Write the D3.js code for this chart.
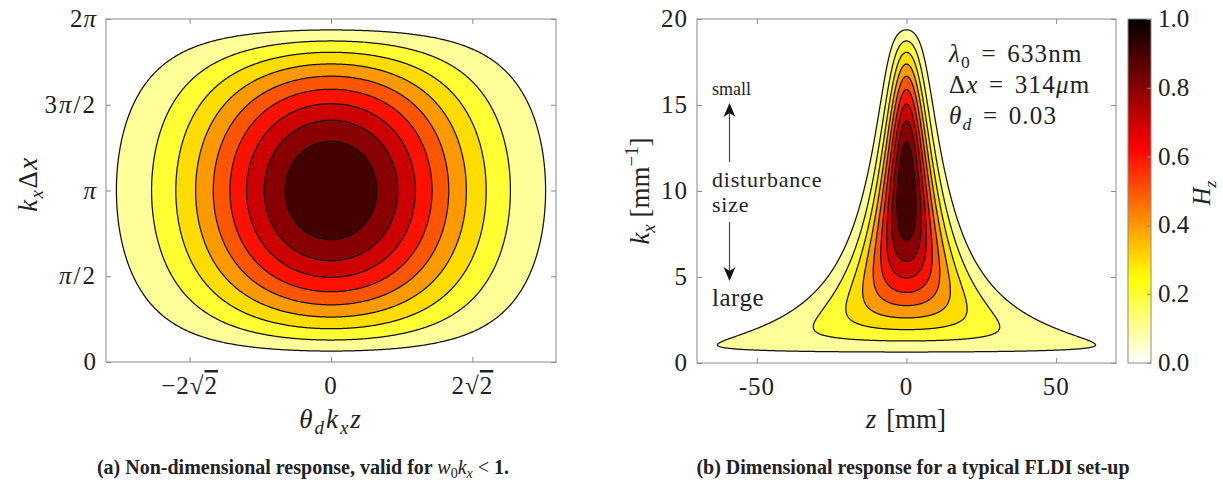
<!DOCTYPE html>
<html><head><meta charset="utf-8">
<script src="https://cdn.jsdelivr.net/npm/d3@7"></script>
<style>
html,body{margin:0;padding:0;background:#fff;}
svg{display:block;}
text{font-family:"Liberation Serif","Times New Roman",serif;fill:#222;}
</style></head><body>
<svg id="chart" width="1223" height="485"></svg>
<script>
// ---------------- data ----------------
const contourLevels = [0.1, 0.2, 0.3, 0.4, 0.5, 0.6, 0.7, 0.8, 0.9];
// panel (a): non-dimensional axes
const aXDomain = [-4.5, 4.5];
const aYDomain = [0, 2 * Math.PI];
const aXTickValues = [-2 * Math.SQRT2, 0, 2 * Math.SQRT2];
const aXTickLabels = ["−2√2", "0", "2√2"];
const aYTickValues = [0, Math.PI / 2, Math.PI, 3 * Math.PI / 2, 2 * Math.PI];
const aYTickLabels = ["0", "π/2", "π", "3π/2", "2π"];
// panel (b): dimensional axes
const bXDomain = [-70, 70];
const bYDomain = [0, 20];
const bXTickValues = [-50, 0, 50];
const bXTickLabels = ["-50", "0", "50"];
const bYTickValues = [0, 5, 10, 15, 20];
const bYTickLabels = ["0", "5", "10", "15", "20"];
const colorbarTicks = [0, 0.2, 0.4, 0.6, 0.8, 1.0];
const colorbarLabels = ["0.0", "0.2", "0.4", "0.6", "0.8", "1.0"];
// FLDI set-up parameters (shown in the text box)
const lambda0 = 633e-6;   // mm
const deltaX = 0.314;     // mm
const thetaD = 0.03;
const w0 = lambda0 / (Math.PI * thetaD);

// response H = exp(-k^2 w^2 / 8) |sin(k dx / 2)|
const fieldA = (x, y) => Math.exp(-x * x / 8) * Math.abs(Math.sin(y / 2));
const fieldB = (z, k) => {
  const w2 = w0 * w0 + thetaD * thetaD * z * z;
  return Math.exp(-k * k * w2 / 8) * Math.abs(Math.sin(k * deltaX / 2));
};

// reversed MATLAB "hot" colormap
function hotR(v) {
  const t = 1 - v;
  const c = u => Math.max(0, Math.min(1, u));
  const r = c(t / 0.375), g = c((t - 0.375) / 0.375), b = c((t - 0.75) / 0.25);
  return d3.rgb(r * 255, g * 255, b * 255).formatHex();
}

const svg = d3.select("#chart");

// rich text helper
function rich(sel, parts, size) {
  let shift = 0;
  parts.forEach(p => {
    const ts = sel.append("tspan").text(p.t);
    let target = 0, fs = size;
    if (p.sub) { target = size * 0.22; fs = size * 0.7; }
    if (p.sup) { target = -size * 0.4; fs = size * 0.7; }
    ts.attr("dy", target - shift);
    shift = target;
    ts.attr("font-size", fs);
    if (p.i) ts.attr("font-style", "italic");
    if (p.b) ts.attr("font-weight", "bold");
    if (p.ol) ts.style("text-decoration", "overline");
  });
  return sel;
}

function tickLabelParts(s) {
  const parts = [];
  for (let idx = 0; idx < s.length; idx++) {
    const ch = s[idx];
    if (ch === "π") parts.push({ t: "π", i: true });
    else if (ch === "√") { parts.push({ t: "√" }); parts.push({ t: s.slice(idx + 1), ol: true }); break; }
    else parts.push({ t: ch });
  }
  return parts;
}

const FS = 25;
const LFS = 27;
const gridGray = "#8a8a8a";

function drawPanel(box, xDom, yDom, xTV, xTL, yTV, yTL, field, nx, ny, clipId) {
  const x = d3.scaleLinear().domain(xDom).range([box.l, box.r]);
  const y = d3.scaleLinear().domain(yDom).range([box.b, box.t]);
  svg.append("clipPath").attr("id", clipId).append("rect")
    .attr("x", box.l).attr("y", box.t).attr("width", box.r - box.l).attr("height", box.b - box.t);

  const values = new Float64Array(nx * ny);
  for (let j = 0; j < ny; j++) {
    const yv = yDom[0] + (yDom[1] - yDom[0]) * j / (ny - 1);
    for (let i = 0; i < nx; i++) {
      const xv = xDom[0] + (xDom[1] - xDom[0]) * i / (nx - 1);
      values[j * nx + i] = field(xv, yv);
    }
  }
  const contours = d3.contours().size([nx, ny]).thresholds(contourLevels)(values);
  const proj = d3.geoTransform({
    point(px, py) {
      this.stream.point(
        x(xDom[0] + (px - 0.5) * (xDom[1] - xDom[0]) / (nx - 1)),
        y(yDom[0] + (py - 0.5) * (yDom[1] - yDom[0]) / (ny - 1)));
    }
  });
  const path = d3.geoPath(proj);
  const g = svg.append("g").attr("clip-path", `url(#${clipId})`);
  g.selectAll("path").data(contours).join("path")
    .attr("d", path)
    .attr("fill", d => hotR(d.value))
    .attr("stroke", "#111").attr("stroke-width", 1.25).attr("stroke-linejoin", "round");

  const tk = 5;
  const axes = [
    [d3.axisBottom(x).tickValues(xTV), `translate(0,${box.b})`],
    [d3.axisTop(x).tickValues(xTV), `translate(0,${box.t})`],
    [d3.axisLeft(y).tickValues(yTV), `translate(${box.l},0)`],
    [d3.axisRight(y).tickValues(yTV), `translate(${box.r},0)`]
  ];
  axes.forEach(([ax, tr]) => {
    const ag = svg.append("g").attr("transform", tr)
      .call(ax.tickSizeInner(-tk).tickSizeOuter(0).tickFormat(""));
    ag.select(".domain").remove();
    ag.selectAll("line").attr("stroke", gridGray).attr("stroke-width", 1);
    ag.selectAll("text").remove();
  });
  svg.append("rect").attr("x", box.l).attr("y", box.t)
    .attr("width", box.r - box.l).attr("height", box.b - box.t)
    .attr("fill", "none").attr("stroke", gridGray).attr("stroke-width", 1);

  xTV.forEach((v, k) => {
    const t = svg.append("text").attr("x", x(v)).attr("y", box.b + 32)
      .attr("text-anchor", "middle").attr("font-size", FS).attr("letter-spacing", 1);
    rich(t, tickLabelParts(xTL[k]), FS);
  });
  yTV.forEach((v, k) => {
    const t = svg.append("text").attr("x", box.l - 9).attr("y", y(v) + 8)
      .attr("text-anchor", "end").attr("font-size", FS)
      .attr("letter-spacing", yTL[k].length > 2 ? 2 : 1);
    rich(t, tickLabelParts(yTL[k]), FS);
  });
  return { x, y };
}

// ---------------- panel (a) ----------------
const boxA = { l: 106, r: 556, t: 19, b: 362 };
drawPanel(boxA, aXDomain, aYDomain, aXTickValues, aXTickLabels, aYTickValues, aYTickLabels,
  fieldA, 360, 300, "clipA");

rich(svg.append("text").attr("transform", "translate(37,184) rotate(-90)")
  .attr("text-anchor", "middle").attr("font-size", LFS).attr("letter-spacing", 1.5),
  [{ t: "k", i: true }, { t: "x", i: true, sub: true }, { t: "Δ" }, { t: "x", i: true }], LFS);
rich(svg.append("text").attr("x", 331).attr("y", 428)
  .attr("text-anchor", "middle").attr("font-size", LFS).attr("letter-spacing", 2),
  [{ t: "θ", i: true }, { t: "d", i: true, sub: true }, { t: "k", i: true }, { t: "x", i: true, sub: true }, { t: "z", i: true }], LFS);

// ---------------- panel (b) ----------------
const boxB = { l: 697, r: 1116, t: 19, b: 363 };
drawPanel(boxB, bXDomain, bYDomain, bXTickValues, bXTickLabels, bYTickValues, bYTickLabels,
  fieldB, 560, 600, "clipB");

rich(svg.append("text").attr("transform", "translate(649,191) rotate(-90)")
  .attr("text-anchor", "middle").attr("font-size", LFS),
  [{ t: "k", i: true }, { t: "x", i: true, sub: true }, { t: " [mm" }, { t: "−1", sup: true }, { t: "]" }], LFS);
rich(svg.append("text").attr("x", 906).attr("y", 428)
  .attr("text-anchor", "middle").attr("font-size", LFS).attr("word-spacing", 3),
  [{ t: "z", i: true }, { t: " [mm]" }], LFS);

// annotation: disturbance size
const ann = svg.append("g");
ann.append("text").attr("x", 712).attr("y", 95).attr("font-size", 18).text("small");
ann.append("text").attr("x", 712).attr("y", 187).attr("font-size", 22).attr("letter-spacing", 0.8).text("disturbance");
ann.append("text").attr("x", 712).attr("y", 212).attr("font-size", 22).attr("letter-spacing", 0.8).text("size");
ann.append("text").attr("x", 712).attr("y", 306).attr("font-size", 25).attr("letter-spacing", 0.5).text("large");
const ax0 = 729.5;
ann.append("line").attr("x1", ax0).attr("x2", ax0).attr("y1", 162).attr("y2", 112).attr("stroke", "#444").attr("stroke-width", 1.2);
ann.append("path").attr("d", `M${ax0},103 L${ax0 + 6},117 L${ax0},113 L${ax0 - 6},117 Z`).attr("fill", "#111");
ann.append("line").attr("x1", ax0).attr("x2", ax0).attr("y1", 222).attr("y2", 272).attr("stroke", "#444").attr("stroke-width", 1.2);
ann.append("path").attr("d", `M${ax0},281 L${ax0 + 6},267 L${ax0},271 L${ax0 - 6},267 Z`).attr("fill", "#111");

// parameters text box
rich(svg.append("text").attr("x", 949).attr("y", 62).attr("font-size", FS).attr("letter-spacing", 1.2).attr("word-spacing", 3),
  [{ t: "λ", i: true }, { t: "0", sub: true }, { t: " = 633nm" }], FS);
rich(svg.append("text").attr("x", 949).attr("y", 93).attr("font-size", FS).attr("letter-spacing", 1.2).attr("word-spacing", 3),
  [{ t: "Δ" }, { t: "x", i: true }, { t: " = 314" }, { t: "μ", i: true }, { t: "m" }], FS);
rich(svg.append("text").attr("x", 949).attr("y", 124).attr("font-size", FS).attr("letter-spacing", 1.2).attr("word-spacing", 3),
  [{ t: "θ", i: true }, { t: "d", i: true, sub: true }, { t: " = 0.03" }], FS);

// ---------------- colorbar ----------------
const cb = { l: 1128, r: 1151, t: 19, b: 363 };
const cbScale = d3.scaleLinear().domain([0, 1]).range([cb.b, cb.t]);
const grad = svg.append("defs").append("linearGradient").attr("id", "cbGrad")
  .attr("x1", 0).attr("y1", 1).attr("x2", 0).attr("y2", 0);
d3.range(0, 1.0001, 0.02).forEach(v => {
  grad.append("stop").attr("offset", v).attr("stop-color", hotR(v));
});
svg.append("rect").attr("x", cb.l).attr("y", cb.t).attr("width", cb.r - cb.l).attr("height", cb.b - cb.t)
  .attr("fill", "url(#cbGrad)").attr("stroke", gridGray).attr("stroke-width", 1);
const cbAx = svg.append("g").attr("transform", `translate(${cb.r},0)`)
  .call(d3.axisRight(cbScale).tickValues(colorbarTicks).tickSizeInner(-4).tickSizeOuter(0).tickFormat(""));
cbAx.select(".domain").remove();
cbAx.selectAll("line").attr("stroke", gridGray);
cbAx.selectAll("text").remove();
colorbarTicks.forEach((v, k) => {
  svg.append("text").attr("x", 1158).attr("y", cbScale(v) + 8).attr("font-size", FS).text(colorbarLabels[k]);
});
rich(svg.append("text").attr("transform", "translate(1210,193) rotate(-90)")
  .attr("text-anchor", "middle").attr("font-size", FS),
  [{ t: "H", i: true }, { t: "z", i: true, sub: true }], FS);

// ---------------- captions ----------------
rich(svg.append("text").attr("x", 303).attr("y", 474).attr("text-anchor", "middle").attr("font-size", 20),
  [{ t: "(a) Non-dimensional response, valid for ", b: true }, { t: "w", i: true },
   { t: "0", sub: true }, { t: "k", i: true }, { t: "x", i: true, sub: true }, { t: " < " }, { t: "1.", b: true }], 20);
svg.append("text").attr("x", 913).attr("y", 474).attr("text-anchor", "middle")
  .attr("font-size", 20).attr("font-weight", "bold").text("(b) Dimensional response for a typical FLDI set-up");
</script>
</body></html>
